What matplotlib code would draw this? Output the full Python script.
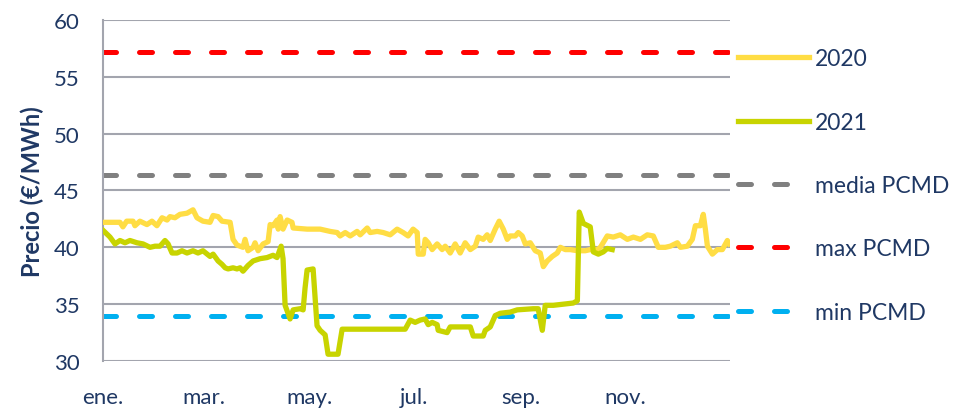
import matplotlib
matplotlib.use("Agg")
import matplotlib.pyplot as plt

# day of year (0 = 1 ene.) and price
days_2020 = [0, 9.9, 11.6, 13.8, 17.5, 18.6, 21.5, 25.6, 28.5, 31.4, 34.4, 37.3, 39.0, 41.9,
             44.8, 48.9, 52.4, 54.7, 58.2, 62.3, 64.1, 67.0, 69.3, 74.0, 75.7, 78.0, 81.5,
             82.7, 84.4, 87.4, 88.5, 90.3, 93.2, 96.1, 97.3, 99.0, 101.3, 102, 103.1, 104.8,
             107.2, 110, 110.7, 118.8, 126.4, 132.2, 136.3, 138, 141, 143.9, 147.9, 149.7,
             153.8, 155.5, 159.6, 163.1, 167.2, 171.2, 174.7, 177.6, 180.5, 182.9, 183.5,
             186.4, 187.5, 189.3, 191.6, 194.5, 197.4, 199.2, 202.1, 205, 207.9, 210.8,
             213.8, 216.7, 218.4, 221.3, 223.6, 225.4, 228.3, 230.6, 233, 235.3, 237, 240,
             241.7, 244, 245.8, 248.7, 251.6, 254.5, 256.3, 258.6, 261.5, 264.4, 266.2,
             269.1, 272, 276.1, 280.7, 283.6, 287.7, 289.5, 293.5, 297, 301.1, 305.2, 308.7,
             312.8, 316.8, 320.3, 323.2, 327.3, 330.2, 334.3, 336.1, 340.1, 343, 344.8,
             347.7, 349.4, 350.6, 351.8, 354.7, 357.6, 360.5, 363.4, 364.5]
precio_2020 = [42.2, 42.2, 41.8, 42.3, 42.3, 41.9, 42.3, 42.0, 42.3, 41.9, 42.6, 42.4, 42.7, 42.6,
               42.9, 43.0, 43.3, 42.6, 42.3, 42.2, 42.8, 42.7, 42.3, 42.2, 40.7, 40.2, 40.0,
               40.7, 39.7, 40.0, 40.4, 39.7, 40.3, 40.5, 42.0, 41.9, 42.4, 41.6, 42.7, 41.6,
               42.4, 42.2, 41.7, 41.6, 41.6, 41.4, 41.3, 41.0, 41.3, 41.0, 41.4, 41.1,
               41.7, 41.3, 41.4, 41.3, 41.1, 41.6, 41.3, 41.0, 41.6, 41.3, 39.4,
               39.4, 40.7, 40.4, 39.8, 40.3, 39.8, 40.1, 39.5, 40.3, 39.5, 40.4,
               39.8, 40.1, 40.9, 40.7, 41.1, 40.6, 41.6, 42.3, 41.6, 40.7, 41.0, 41.0,
               41.3, 41.0, 40.3, 40.4, 39.7, 39.5, 38.3, 38.8, 39.2, 39.5, 40.0,
               39.8, 39.8, 39.7, 39.7, 39.8, 39.8, 40.0, 41.0, 40.9, 41.1, 40.7, 40.9,
               40.7, 41.1, 41.0, 40.0, 40.0, 40.1, 40.4, 40.0, 40.1, 40.7, 41.9,
               41.9, 42.9, 41.6, 40.1, 39.4, 39.8, 39.8, 40.6, 40.3]

days_2021 = [0, 4.1, 7, 9.9, 12.8, 15.7, 19.8, 23.3, 27.4, 30.3, 33.2, 36.1, 37.9, 40.2, 43.1,
             46, 48.9, 52.4, 55.3, 58.2, 62.3, 64.1, 67, 69.3, 71.1, 72.8, 75.7, 78, 79.8,
             81.5, 84.4, 87.4, 91.4, 95.5, 99, 101.3, 103.7, 104.8, 106, 108.9, 110.7, 114.7,
             116.5, 117.6, 118.8, 122.3, 124.6, 126.4, 129.3, 131, 136.8, 139.2, 175.9,
             178.8, 181.7, 184.6, 187.5, 189.3, 191.6, 194.5, 195.1, 200.3, 202.1, 213.8,
             215.5, 221.3, 222.5, 225.4, 228.3, 231.2, 237, 241.1, 250.4, 253.3, 255.7,
             257.4, 262.1, 267.9, 273.7, 276.1, 277.2, 279.6, 283.6, 285.4, 288.3, 291.2,
             293.5, 296.4]
precio_2021 = [41.5, 40.9, 40.3, 40.6, 40.4, 40.6, 40.4, 40.3, 40.0, 40.1, 40.1, 40.6, 40.3, 39.5,
               39.5, 39.7, 39.5, 39.7, 39.5, 39.7, 39.2, 39.4, 38.8, 38.5, 38.2, 38.1, 38.2,
               38.1, 38.2, 37.9, 38.4, 38.8, 39.0, 39.1, 39.3, 39.1, 40.1, 39.0, 34.9, 33.7,
               34.5, 34.6, 34.5, 36.4, 38.0, 38.1, 33.1, 32.7, 32.3, 30.6, 30.6, 32.8, 32.8,
               33.6, 33.4, 33.6, 33.7, 33.2, 33.4, 33.2, 32.7, 32.5, 33.0, 33.0,
               32.2, 32.2, 32.7, 33.0, 34.0, 34.2, 34.3, 34.5, 34.6, 34.6, 32.7,
               34.9, 34.9, 35.0, 35.1, 35.3, 43.1, 42.1, 41.8, 39.6, 39.4, 39.6,
               39.9, 39.8]

media_pcmd = 46.4
max_pcmd = 57.15
min_pcmd = 33.95

mes_pos = [0, 59, 120, 181, 243, 304]
mes_lab = ["ene.", "mar.", "may.", "jul.", "sep.", "nov."]

texto = "#1F3864"
rejilla = "#A3A5AE"

plt.rcParams["font.family"] = ["Lato", "DejaVu Sans"]

fig = plt.figure(figsize=(9.57, 4.10), dpi=100)
ax = fig.add_axes([0.1076, 0.117, 0.6553, 0.832])

for y in range(30, 61, 5):
    ax.axhline(y, color=rejilla, lw=1.5, zorder=1)

ax.plot(days_2020, precio_2020, color="#FFDD44", lw=3.8, label="2020", zorder=3,
        solid_joinstyle="round")
ax.plot(days_2021, precio_2021, color="#C8D400", lw=3.8, label="2021", zorder=4,
        solid_joinstyle="round")

estilo = dict(lw=3.6, dashes=(2.6, 4.6), dash_capstyle="round", zorder=2)
ax.axhline(media_pcmd, color="#808080", label="media PCMD", **estilo)
ax.axhline(max_pcmd, color="#FF0000", label="max PCMD", **estilo)
ax.axhline(min_pcmd, color="#00B0F0", label="min PCMD", **estilo)

ax.set_xlim(0, 365)
ax.set_ylim(30, 60)
ax.set_yticks(range(30, 61, 5))
ax.set_xticks(mes_pos)
ax.set_xticklabels(mes_lab)
ax.tick_params(length=0, labelsize=16, colors=texto)
ax.tick_params(axis="y", pad=17)
ax.tick_params(axis="x", pad=19)

for s in ["top", "right", "bottom"]:
    ax.spines[s].set_visible(False)
ax.spines["left"].set_color(rejilla)
ax.spines["left"].set_linewidth(1.5)

ax.set_ylabel("Precio (€/MWh)", fontsize=17, fontweight="bold", color=texto, labelpad=7)

leg = ax.legend(loc="upper left", bbox_to_anchor=(1.004, 0.934), frameon=False,
                fontsize=16.5, handlelength=3.1, handletextpad=0.26, labelspacing=1.85,
                borderaxespad=0, borderpad=0.25)
for t in leg.get_texts():
    t.set_color(texto)

fig.savefig("out.png", dpi=100)
